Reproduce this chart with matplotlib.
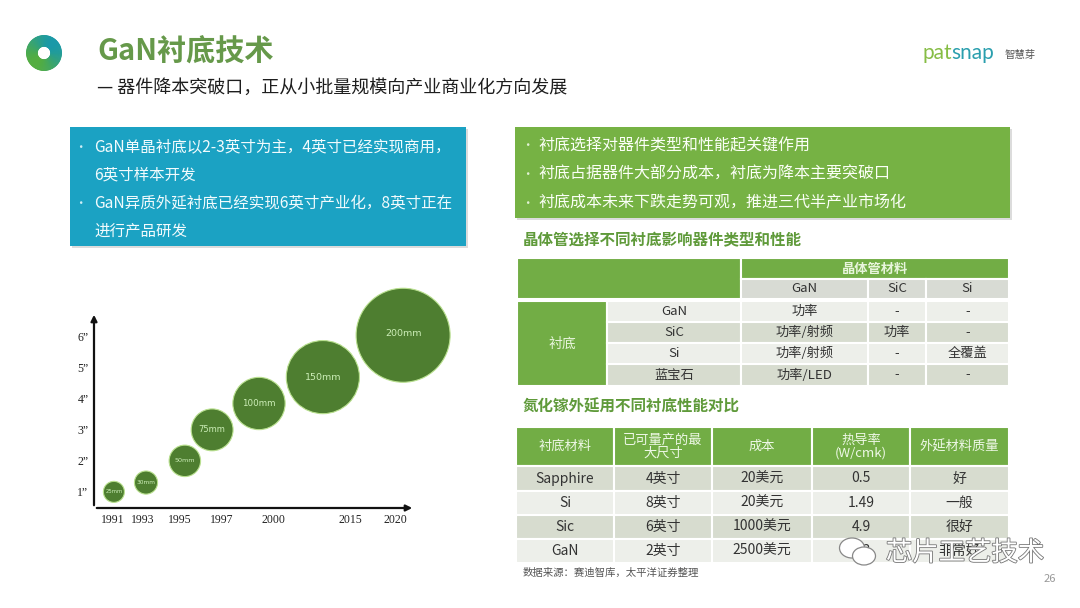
import numpy as np
import matplotlib
matplotlib.use('Agg')
import matplotlib.pyplot as plt
from matplotlib.patches import Rectangle, Wedge, Ellipse
import matplotlib.patheffects as pe

plt.rcParams['font.family'] = ['Noto Sans CJK SC', 'DejaVu Sans']

# ---- data ----
# bubble chart: wafer size by year
years = ['1991', '1993', '1995', '1997', '2000', '2015', '2020']
year_pos = [0.59, 1.53, 2.68, 3.99, 5.58, 7.98, 9.38]      # tick slots on the arrow axis
bubble_x = [0.62, 1.62, 2.83, 3.68, 5.14, 7.13, 9.63]
bubble_inch = [1.0, 1.3, 2.0, 3.0, 3.85, 4.7, 6.05]
wafer_mm = [25, 30, 50, 75, 100, 150, 200]
inch_ticks = [1, 2, 3, 4, 5, 6]

left_lines = ['GaN单晶衬底以2-3英寸为主，4英寸已经实现商用，', '6英寸样本开发',
              'GaN异质外延衬底已经实现6英寸产业化，8英寸正在', '进行产品研发']
left_bullet = [True, False, True, False]
right_lines = ['衬底选择对器件类型和性能起关键作用',
               '衬底占据器件大部分成本，衬底为降本主要突破口',
               '衬底成本未来下跌走势可观，推进三代半产业市场化']

t1_cols = ['GaN', 'SiC', 'Si']
t1_rows = ['GaN', 'SiC', 'Si', '蓝宝石']
t1_vals = [['功率', '-', '-'],
           ['功率/射频', '功率', '-'],
           ['功率/射频', '-', '全覆盖'],
           ['功率/LED', '-', '-']]

t2_head = ['衬底材料', '已可量产的最\n大尺寸', '成本', '热导率\n(W/cmk)', '外延材料质量']
t2_vals = [['Sapphire', '4英寸', '20美元', '0.5', '好'],
           ['Si', '8英寸', '20美元', '1.49', '一般'],
           ['Sic', '6英寸', '1000美元', '4.9', '很好'],
           ['GaN', '2英寸', '2500美元', '1.3', '非常好']]

GREEN = '#72ad45'
BLUE = '#1ba2c3'
ROW_DARK = '#d7dccf'
ROW_LIGHT = '#edefea'

fig = plt.figure(figsize=(10.8, 6.08), dpi=100)
fig.patch.set_facecolor('white')
bg = fig.add_axes([0, 0, 1, 1])
bg.set_xlim(0, 1080)
bg.set_ylim(608, 0)
bg.axis('off')


def cell(x0, x1, y0, y1, color, text='', tc='#333333', fs=9.5, weight='normal', z=2):
    bg.add_patch(Rectangle((x0, y0), x1 - x0, y1 - y0, facecolor=color,
                           edgecolor='white', linewidth=1.5, zorder=z))
    if text:
        bg.text((x0 + x1) / 2, (y0 + y1) / 2, text, ha='center', va='center',
                fontsize=fs, color=tc, fontweight=weight, zorder=z + 1, linespacing=1.0)


# ---- header: ring logo, title, patsnap ----
n = 90
for i in range(n):
    a0 = 360 * i / n
    # green towards lower-left, teal towards upper-right (y axis is flipped here)
    t = (np.cos(np.radians(a0 + 180 / n + 45)) + 1) / 2
    c0 = np.array([0.33, 0.68, 0.25])
    c1 = np.array([0.10, 0.60, 0.66])
    col = c0 * (1 - t) + c1 * t
    bg.add_patch(Wedge((44, 53), 17.5, a0, a0 + 360 / n, width=10.8,
                       facecolor=col, edgecolor=col, linewidth=0.6))

bg.text(97, 51, 'GaN衬底技术', fontsize=21, fontweight='bold', color='#66994a',
        va='center', ha='left')
bg.text(97, 88, '— 器件降本突破口，正从小批量规模向产业商业化方向发展', fontsize=13,
        color='#1e1e1e', va='center', ha='left')

p1 = bg.text(922, 53, 'pat', fontsize=15, color='#86bd45', va='center', ha='left',
             family='Lato')
fig.canvas.draw()
bb = p1.get_window_extent().transformed(bg.transData.inverted())
bg.text(bb.x1, 53, 'snap', fontsize=15, color='#2a9fae', va='center', ha='left', family='Lato')
bg.text(1005, 55, '智慧芽', fontsize=7.5, color='#555555', va='center', ha='left')

# ---- top boxes ----
bg.add_patch(Rectangle((72, 129), 396, 119, facecolor='#bbbbbb', alpha=0.5, zorder=1))
bg.add_patch(Rectangle((70, 127), 396, 119, facecolor=BLUE, zorder=2))
for i, (line, bul) in enumerate(zip(left_lines, left_bullet)):
    y = 147 + 28 * i
    if bul:
        bg.text(80, y, '•', fontsize=9, color='#cdeef6', va='center', ha='center', zorder=3)
    bg.text(94, y, line, fontsize=11.2, color='#f2fbfd', va='center', ha='left', zorder=3)

bg.add_patch(Rectangle((517, 129), 495, 91, facecolor='#bbbbbb', alpha=0.5, zorder=1))
bg.add_patch(Rectangle((515, 127), 495, 91, facecolor='#76b244', zorder=2))
for i, line in enumerate(right_lines):
    y = 146 + 28.5 * i
    bg.text(527, y, '•', fontsize=9, color='#e2f2d4', va='center', ha='center', zorder=3)
    bg.text(538, y, line, fontsize=11.5, color='#fbfff7', va='center', ha='left', zorder=3)

# ---- table 1 ----
bg.text(523, 240, '晶体管选择不同衬底影响器件类型和性能', fontsize=11.2, fontweight='bold',
        color='#5f9a3a', va='center', ha='left')
xe = [517, 607, 741, 868, 926, 1009]
cell(xe[0], xe[2], 258, 299, GREEN)
cell(xe[2], xe[5], 258, 279, GREEN, '晶体管材料', tc='#e8f5dc', fs=9.5, weight='bold')
for j, c in enumerate(t1_cols):
    cell(xe[2 + j], xe[3 + j], 279, 299, '#d8dbd4', c)
ye = [301, 322, 343, 364, 386]
cell(xe[0], xe[1], ye[0], ye[-1], GREEN, '衬底', tc='#e8f5dc', fs=10)
for i, r in enumerate(t1_rows):
    col = ROW_LIGHT if i % 2 == 0 else ROW_DARK
    cell(xe[1], xe[2], ye[i], ye[i + 1], col, r)
    for j, v in enumerate(t1_vals[i]):
        cell(xe[2 + j], xe[3 + j], ye[i], ye[i + 1], col, v)

# ---- table 2 ----
bg.text(523, 407, '氮化镓外延用不同衬底性能对比', fontsize=11.2, fontweight='bold',
        color='#5f9a3a', va='center', ha='left')
xe2 = [516, 614, 712, 812, 910, 1009]
for j, h in enumerate(t2_head):
    cell(xe2[j], xe2[j + 1], 427, 466, GREEN, h, tc='#eef8e6', fs=9.5)
ye2 = [466, 491, 515, 539, 563]
for i, row in enumerate(t2_vals):
    col = ROW_DARK if i % 2 == 0 else ROW_LIGHT
    for j, v in enumerate(row):
        cell(xe2[j], xe2[j + 1], ye2[i], ye2[i + 1], col, v, fs=10)
bg.text(523, 573, '数据来源：赛迪智库，太平洋证券整理', fontsize=7.5, color='#555555',
        style='italic', va='center', ha='left')

# watermark over the last row, as in the slide capture
bg.add_patch(Ellipse((852, 548), 25, 20, facecolor='white', edgecolor='#888888', lw=0.9, zorder=6))
bg.add_patch(Ellipse((864, 556), 23, 18, facecolor='white', edgecolor='#888888', lw=0.9, zorder=7))
bg.text(965, 553, '芯片工艺技术', fontsize=19, color='white', va='center', ha='center', zorder=8,
        fontweight='light',
        path_effects=[pe.withStroke(linewidth=1.2, foreground='#777777')])
bg.text(1050, 579, '26', fontsize=8, color='#999999', va='center', ha='center')

# ---- bubble chart ----
ax = fig.add_axes([94 / 1080, 100 / 608, 321 / 1080, 196 / 608])
ax.set_xlim(0, 10)
ax.set_ylim(0.48, 6.8)
ax.patch.set_alpha(0)
for s in ax.spines.values():
    s.set_visible(False)
ax.annotate('', xy=(0, 1), xytext=(0, 0), xycoords='axes fraction',
            arrowprops=dict(arrowstyle='-|>', color='#111111', lw=1.6, mutation_scale=9))
ax.annotate('', xy=(1, 0), xytext=(0, 0), xycoords='axes fraction',
            arrowprops=dict(arrowstyle='-|>', color='#111111', lw=1.6, mutation_scale=9))

diam_px = 10.6 + 0.417 * np.array(wafer_mm)
sizes = (diam_px * 0.72) ** 2
ax.scatter(bubble_x, bubble_inch, s=sizes, color='#4e7e30', edgecolors='#b9e08f',
           linewidths=0.8, clip_on=False, zorder=3)
label_fs = [3.8, 4.2, 4.6, 6, 6.3, 6.8, 6.8]
for x, y, mm, f in zip(bubble_x, bubble_inch, wafer_mm, label_fs):
    yy = y + (0.05 if mm == 200 else 0)
    ax.text(x, yy, f'{mm}mm', fontsize=f, color='#cdeeb8', ha='center', va='center',
            zorder=4, family='DejaVu Sans')

ax.set_xticks(year_pos)
ax.set_xticklabels(years, family='Liberation Serif', fontsize=8.5, color='#222222')
ax.set_yticks(inch_ticks)
ax.set_yticklabels([f'{v}”' for v in inch_ticks], family='Liberation Serif', fontsize=8.5,
                   color='#222222')
ax.tick_params(length=0, pad=4)

fig.savefig('out.png', dpi=100)
